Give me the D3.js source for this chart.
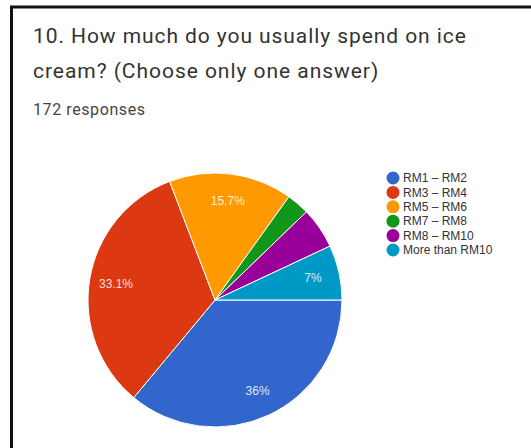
<!DOCTYPE html>
<html>
<head>
<meta charset="utf-8">
<script src="https://cdn.jsdelivr.net/npm/d3@7"></script>
<style>
  body { margin: 0; background: #fff; }
  svg { display: block; }
</style>
</head>
<body>
<div id="chart"></div>
<script>
// survey answers (counts out of 172)
const categories = ["RM1 \u2013 RM2", "RM3 \u2013 RM4", "RM5 \u2013 RM6", "RM7 \u2013 RM8", "RM8 \u2013 RM10", "More than RM10"];
const counts = [62, 57, 27, 5, 9, 12];
const colors = ["#3366cc", "#dc3912", "#ff9900", "#109618", "#990099", "#0099c6"];
const titleLines = ["10. How much do you usually spend on ice", "cream? (Choose only one answer)"];
const subtitle = "172 responses";

const width = 531, height = 448;

const svg = d3.select("#chart").append("svg")
    .attr("width", width)
    .attr("height", height);

// frame (only top and left edges are visible in the crop)
svg.append("path")
    .attr("d", `M11.5,${height} V7 H${width}`)
    .attr("fill", "none")
    .attr("stroke", "#111")
    .attr("stroke-width", 3);

svg.selectAll(".title")
    .data(titleLines)
    .enter().append("text")
    .attr("class", "title")
    .attr("x", 33)
    .attr("y", (d, i) => 43 + i * 35)
    .style("font-family", "Roboto, sans-serif")
    .style("font-size", "21px")
    .style("fill", "#333")
    .text(d => d)
    .each(function (d, i) {
        // the screenshot font runs wider than Roboto
        let w = this.getComputedTextLength();
        d3.select(this).attr("textLength", w * 433 / 397);
    });

svg.append("text")
    .attr("x", 33)
    .attr("y", 115)
    .style("font-family", "Roboto, sans-serif")
    .style("font-size", "16px")
    .style("fill", "#444")
    .text(subtitle)
    .attr("textLength", 112);

// pie
const cx = 215, cy = 300, radius = 127;
const total = d3.sum(counts);

const pie = d3.pie()
    .sort(null)
    .startAngle(Math.PI / 2)
    .endAngle(Math.PI / 2 + 2 * Math.PI)
    .value(d => d);

const arc = d3.arc().innerRadius(0).outerRadius(radius);
const labelArc = d3.arc().innerRadius(radius * 0.79).outerRadius(radius * 0.79);

const arcs = pie(counts);

const pieG = svg.append("g")
    .attr("transform", `translate(${cx},${cy})`);

pieG.selectAll("path")
    .data(arcs)
    .enter().append("path")
    .attr("d", arc)
    .attr("fill", (d, i) => colors[i])
    .attr("stroke", "#fff")
    .attr("stroke-width", 1);

const fmt = v => {
    let p = Math.round(v / total * 1000) / 10;
    return (Number.isInteger(p) ? p.toFixed(0) : p.toFixed(1)) + "%";
};

pieG.selectAll(".slice-label")
    .data(arcs.filter(d => d.value / total > 0.055))
    .enter().append("text")
    .attr("class", "slice-label")
    .attr("transform", d => `translate(${labelArc.centroid(d)})`)
    .attr("text-anchor", "middle")
    .attr("dy", "0.35em")
    .style("font-family", "Arial, 'Liberation Sans', sans-serif")
    .style("font-size", "12px")
    .style("fill", "#fff")
    .style("fill-opacity", 0.85)
    .text(d => fmt(d.value));

// legend
const legend = svg.append("g")
    .attr("transform", "translate(393,178)");

legend.selectAll(".legend-item")
    .data(categories)
    .enter()
    .append("g")
    .attr("class", "legend-item")
    .attr("transform", (d, i) => `translate(0, ${i * 14.4})`)
    .each(function (d, i) {
        let item = d3.select(this);
        item.append("circle")
            .attr("r", 6.5)
            .attr("fill", colors[i]);
        item.append("text")
            .attr("x", 10)
            .attr("dy", "0.35em")
            .style("font-family", "Arial, 'Liberation Sans', sans-serif")
            .style("font-size", "12px")
            .style("fill", "#333")
            .text(d);
    });
</script>
</body>
</html>
